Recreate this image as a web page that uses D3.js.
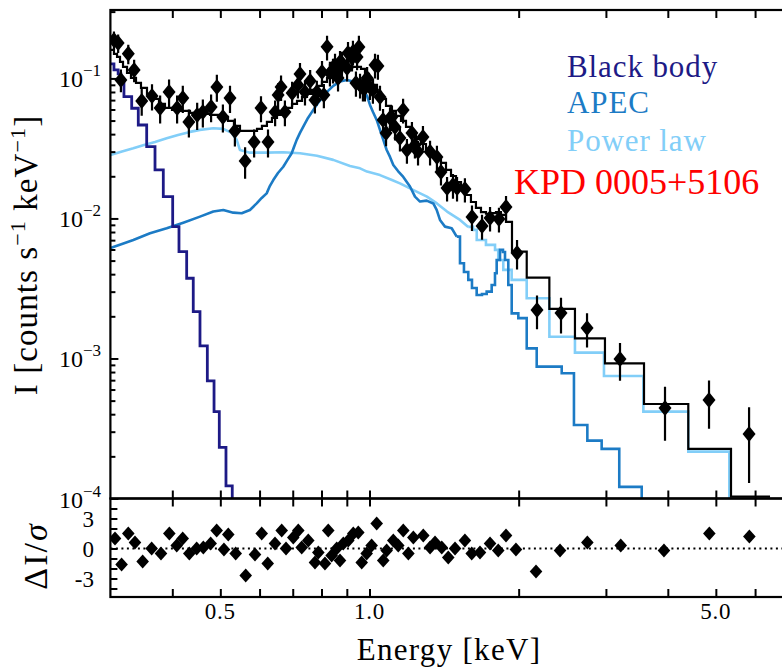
<!DOCTYPE html>
<html>
<head>
<meta charset="utf-8">
<script src="https://cdn.jsdelivr.net/npm/d3@7"></script>
<style>
  body { margin: 0; background: #fff; }
  svg { display: block; font-family: "Liberation Serif", "Times New Roman", serif; }
</style>
</head>
<body>
<svg id="chart" width="782" height="671"></svg>
<script>
// ---- Observed spectrum (keV, counts s^-1 keV^-1, 1-sigma error) ----
const dataEnergy = [0.305,0.311,0.315,0.326,0.335,0.347,0.364,0.378,0.394,0.409,0.420,0.432,0.449,0.461,0.479,0.492,0.506,0.523,0.535,0.561,0.585,0.604,0.624,0.645,0.654,0.663,0.675,0.698,0.717,0.724,0.741,0.759,0.776,0.783,0.802,0.809,0.821,0.832,0.844,0.852,0.864,0.872,0.880,0.901,0.905,0.922,0.926,0.939,0.944,0.952,0.957,0.970,0.979,0.989,1.002,1.016,1.026,1.040,1.050,1.065,1.080,1.100,1.110,1.126,1.152,1.169,1.190,1.218,1.235,1.253,1.282,1.325,1.368,1.394,1.434,1.474,1.502,1.558,1.610,1.687,1.751,1.825,1.886,1.985,2.178,2.435,2.748,3.203,3.948,4.844,5.835];
const dataFlux = [0.188,0.179,0.0976,0.150,0.115,0.0691,0.0750,0.0616,0.0801,0.0616,0.0726,0.0489,0.0549,0.0576,0.0626,0.0870,0.0531,0.0726,0.0422,0.0257,0.0352,0.0616,0.0352,0.0576,0.0762,0.0870,0.0576,0.0788,0.0899,0.1077,0.0801,0.0960,0.0702,0.0801,0.1113,0.0762,0.168,0.1095,0.1150,0.1249,0.1008,0.1312,0.1290,0.1189,0.1521,0.1401,0.1546,0.0929,0.1424,0.1679,0.0899,0.0855,0.0855,0.1008,0.0870,0.0828,0.1249,0.1228,0.0738,0.0505,0.0408,0.0522,0.0531,0.0450,0.0376,0.0596,0.0308,0.0408,0.0335,0.0299,0.0382,0.0299,0.0275,0.0215,0.0165,0.0173,0.0165,0.0162,0.01025,0.00884,0.01008,0.00992,0.01208,0.00567,0.00222,0.00211,0.00165,0.000992,0.000443,0.000505,0.000289];
const dataError = [0.028,0.027,0.018,0.024,0.021,0.015,0.016,0.014,0.018,0.014,0.016,0.011,0.012,0.013,0.014,0.019,0.012,0.016,0.0095,0.0065,0.008,0.013,0.008,0.012,0.016,0.018,0.012,0.016,0.018,0.021,0.016,0.019,0.014,0.016,0.022,0.015,0.034,0.022,0.023,0.025,0.020,0.026,0.026,0.024,0.030,0.028,0.031,0.019,0.028,0.034,0.018,0.017,0.017,0.020,0.017,0.017,0.025,0.025,0.015,0.010,0.008,0.010,0.011,0.009,0.0075,0.012,0.0062,0.008,0.0067,0.006,0.0076,0.006,0.0055,0.0043,0.0033,0.0035,0.0033,0.0032,0.0021,0.0018,0.002,0.002,0.0024,0.00135,0.0006,0.0006,0.00045,0.0003,0.000185,0.00019,0.00016];

// ---- Residuals (data - model) / sigma ----
const resEnergy = [0.3065,0.316,0.326,0.3363,0.3485,0.3634,0.3795,0.3945,0.4083,0.4198,0.4329,0.448,0.462,0.478,0.4916,0.5085,0.5188,0.537,0.5626,0.5874,0.606,0.6232,0.6446,0.665,0.6785,0.7018,0.7183,0.7298,0.7524,0.7762,0.7884,0.8131,0.8256,0.8387,0.8587,0.8719,0.8854,0.9062,0.9275,0.9493,0.9645,0.987,1.010,1.034,1.066,1.083,1.117,1.143,1.170,1.198,1.226,1.284,1.325,1.356,1.399,1.442,1.488,1.558,1.608,1.671,1.751,1.819,1.886,1.975,2.168,2.424,2.752,3.214,3.929,4.851,5.843];
const resValue = [1.0,-1.6,1.5,0.6,-1.3,0,-0.5,1.5,0.3,1.0,-0.5,0,0.1,0.5,1.8,-0.1,1.4,-0.5,-2.7,-0.6,1.5,-1.5,0.5,1.8,0,1.1,1.8,0.1,0.8,-1.4,-0.4,-1.5,1.8,-0.7,0,-1.2,0.5,0.8,1.5,1.6,-1.4,-0.5,0.3,2.5,-1.2,-0.2,0.8,0.3,1.8,-0.5,1.1,1.3,0.1,0.6,0.1,-0.9,0,0.8,-0.5,-0.4,0.5,-0.2,1.3,-0.1,-2.3,-0.2,0.6,0.3,-0.2,1.5,1.2];

// ---- Model components (bin start energy in keV, model flux) ----
const bbEnergy = [0.300,0.305,0.311,0.315,0.3195,0.3312,0.3415,0.3551,0.3691,0.3836,0.4007,0.4126,0.4276,0.4409,0.4549,0.4707,0.4856,0.4976,0.5133,0.5285];
const bbFlux = [0.1269,0.1150,0.1077,0.0976,0.0741,0.0612,0.0465,0.0326,0.0222,0.0143,0.00874,0.00579,0.00374,0.00216,0.00123,0.000691,0.000417,0.000232,0.000123,0.00005];

const apecEnergy = [0.300,0.3166,0.3337,0.3606,0.3897,0.4209,0.4549,0.4840,0.5069,0.5310,0.5522,0.5737,0.5920,0.6060,0.6201,0.6297,0.6395,0.6536,0.6699,0.6832,0.6966,0.7041,0.7130,0.7240,0.7352,0.7514,0.7702,0.7872,0.8069,0.8247,0.8450,0.8719,0.8994,0.9275,0.9480,0.9716,0.9885,1.0023,1.0164,1.0340,1.0500,1.0663,1.0832,1.1000,1.1170,1.1416,1.1700,1.2070,1.2354,1.2644,1.3044,1.3451,1.3664,1.3876,1.4203,1.4652,1.4997,1.5228,1.5511,1.5825,1.6100,1.6455,1.6866,1.7238,1.7643,1.7917,1.8058,1.8339,1.8594,1.8770,1.9060,1.9364,1.997,2.0764,2.1750,2.4430,2.5860,2.7520,2.9413,3.1920,3.5430];
const apecFlux = [0.00616,0.00657,0.00702,0.00784,0.00851,0.00933,0.0103,0.0112,0.0115,0.0110,0.0109,0.0115,0.0128,0.0140,0.0151,0.0171,0.0188,0.0211,0.0234,0.0262,0.0292,0.0324,0.0364,0.0408,0.0453,0.0522,0.0596,0.0668,0.0741,0.0814,0.0884,0.0949,0.0976,0.0949,0.0913,0.0828,0.0750,0.0647,0.0576,0.0505,0.0429,0.0364,0.0308,0.0275,0.0241,0.0218,0.0198,0.0169,0.0143,0.0132,0.0134,0.0128,0.0115,0.00976,0.00874,0.00851,0.00741,0.00479,0.00415,0.00364,0.00319,0.00284,0.00289,0.00300,0.00335,0.00406,0.00505,0.00596,0.00576,0.00505,0.00335,0.00210,0.00194,0.00118,0.000874,0.000784,0.000335,0.000259,0.000226,0.000121,0.00005];
const apecCoarseFrom = 1.4997;   // energy where the grouped (stepped) bins begin

const plEnergy = [0.300,0.3166,0.3337,0.3507,0.3691,0.3897,0.4107,0.4342,0.4549,0.4840,0.5069,0.5271,0.5395,0.5478,0.5737,0.6201,0.6699,0.7240,0.7834,0.8450,0.9134,0.9568,0.9885,1.050,1.110,1.152,1.224,1.306,1.368,1.434,1.523,1.5825,1.618,1.646,1.718,1.792,1.819,1.862,1.936,2.076,2.307,2.598,2.973,3.570,4.399,5.322];
const plFlux = [0.0284,0.0301,0.0317,0.0335,0.0352,0.0374,0.0395,0.0415,0.0429,0.0441,0.0436,0.0408,0.0364,0.0308,0.0295,0.0295,0.0297,0.0292,0.0280,0.0262,0.0237,0.0228,0.0216,0.0204,0.0188,0.0178,0.0160,0.0143,0.0128,0.0112,0.00976,0.00870,0.00828,0.00702,0.00647,0.00596,0.00505,0.00429,0.00364,0.00269,0.00143,0.00110,0.000750,0.000417,0.000216,0.0001];
const plCoarseFrom = 1.5825;

const totalEnergy = [0.300,0.305,0.3094,0.3137,0.3181,0.3241,0.3301,0.3379,0.3458,0.3556,0.3657,0.3760,0.3866,0.3994,0.4145,0.4342,0.4549,0.4766,0.4992,0.5181,0.5327,0.5478,0.5929,0.6067,0.6209,0.6356,0.6506,0.6659,0.6816,0.6976,0.7140,0.7308,0.7480,0.7655,0.7834,0.8018,0.8209,0.8400,0.8598,0.8801,0.9006,0.9219,0.9436,0.9612,0.9793,0.9977,1.0164,1.0354,1.0549,1.0797,1.1051,1.1311,1.1576,1.1849,1.2128,1.2411,1.2703,1.3002,1.3306,1.3620,1.3940,1.4269,1.4605,1.4948,1.5300,1.5658,1.6023,1.6399,1.6788,1.7183,1.7586,1.8000,1.8423,1.8857,1.9390,2.0764,2.3067,2.5980,2.9867,3.5810,4.3990,5.3650,6.4320];
const totalFlux = [0.1598,0.1496,0.1424,0.1312,0.1208,0.1095,0.1008,0.0929,0.0855,0.0775,0.0714,0.0657,0.0616,0.0596,0.0586,0.0567,0.0558,0.0549,0.0531,0.0497,0.0458,0.0422,0.0436,0.0458,0.0489,0.0522,0.0549,0.0586,0.0616,0.0657,0.0691,0.0738,0.0775,0.0828,0.0884,0.0944,0.1008,0.1059,0.1113,0.1150,0.1189,0.1208,0.1208,0.1169,0.1077,0.0976,0.0899,0.0801,0.0714,0.0636,0.0586,0.0540,0.0497,0.0450,0.0408,0.0370,0.0340,0.0314,0.0289,0.0271,0.0249,0.0222,0.0201,0.0182,0.0165,0.0147,0.0131,0.0119,0.0111,0.0108,0.0109,0.0111,0.0106,0.00944,0.00579,0.00378,0.00226,0.00139,0.000924,0.000473,0.000226,0.000103,0.000103];

// ---- Axis ticks ----
const xTicks = [0.4,0.5,0.6,0.7,0.8,0.9,1,2,3,4,5,6];
const xTickLabels = [[0.5,"0.5"],[1.0,"1.0"],[5.0,"5.0"]];
const yMajor = [1e-4,1e-3,1e-2,1e-1];
const yLabelExp = ["−4","−3","−2","−1"];
const resTicks = [-4,-3,-2,-1,0,1,2,3,4];
const resLabels = [[3,"3"],[0,"0"],[-3,"-3"]];

// ---- Legend ----
const legendNames = ["Black body","APEC","Power law"];
const colors = { bb: "#1d1a86", apec: "#1c7bc5", pl: "#82cef8", total: "#000000" };
const legendColors = [colors.bb, colors.apec, colors.pl];
const sourceName = "KPD 0005+5106";

// ---- Layout ----
const pLeft = 110.4, pRight = 788.25, pTop = 10, mainBottom = 498.5, resBottom = 597;
const svg = d3.select("#chart");

const x = d3.scaleLog().domain([0.3, 7.0]).range([pLeft, pRight]);
const y = d3.scaleLog().domain([1e-4, 0.308]).range([mainBottom, pTop]);
const yr = d3.scaleLinear().domain([-4.85, 5]).range([resBottom, mainBottom]);

const defs = svg.append("defs");
defs.append("clipPath").attr("id", "clipMain").append("rect")
  .attr("x", pLeft).attr("y", pTop).attr("width", pRight - pLeft).attr("height", mainBottom - pTop);
defs.append("clipPath").attr("id", "clipRes").append("rect")
  .attr("x", pLeft).attr("y", mainBottom).attr("width", pRight - pLeft).attr("height", resBottom - mainBottom);

const zipped = (a, b) => a.map((v, i) => [v, b[i]]);
const stepLine = d3.line().x(d => x(d[0])).y(d => y(d[1])).curve(d3.curveStepAfter);
const fineLine = d3.line().x(d => x(d[0])).y(d => y(d[1])).curve(d3.curveLinear);

const main = svg.append("g").attr("clip-path", "url(#clipMain)");

function drawSplit(energy, flux, from, color, width) {
  const pts = zipped(energy, flux);
  main.append("path").attr("d", fineLine(pts.filter(p => p[0] <= from)))
    .attr("fill", "none").attr("stroke", color).attr("stroke-width", width).attr("stroke-linejoin", "round");
  main.append("path").attr("d", stepLine(pts.filter(p => p[0] >= from)))
    .attr("fill", "none").attr("stroke", color).attr("stroke-width", width);
}

// Power law and APEC: finely binned below the split energy, grouped above it
drawSplit(plEnergy, plFlux, plCoarseFrom, colors.pl, 2.6);
drawSplit(apecEnergy, apecFlux, apecCoarseFrom, colors.apec, 2.6);

// Black body
main.append("path").attr("d", stepLine(zipped(bbEnergy, bbFlux)))
  .attr("fill", "none").attr("stroke", colors.bb).attr("stroke-width", 2.8);

// Total model
main.append("path").attr("d", stepLine(zipped(totalEnergy, totalFlux)))
  .attr("fill", "none").attr("stroke", colors.total).attr("stroke-width", 2.2);

// Data points with error bars
const diamond = "M0,-8L6.5,0L0,8L-6.5,0Z";
const pts = dataEnergy.map((e, i) => ({ e, f: dataFlux[i], s: dataError[i] }));
main.selectAll("line.err").data(pts).join("line").attr("class", "err")
  .attr("x1", d => x(d.e)).attr("x2", d => x(d.e))
  .attr("y1", d => y(d.f + d.s)).attr("y2", d => y(Math.max(d.f - d.s, 1e-6)))
  .attr("stroke", "#000").attr("stroke-width", 2.2);
main.selectAll("path.pt").data(pts).join("path").attr("class", "pt")
  .attr("d", diamond).attr("transform", d => `translate(${x(d.e)},${y(d.f)})`)
  .attr("fill", "#000");

// Residual panel
const res = svg.append("g").attr("clip-path", "url(#clipRes)");
res.append("line").attr("x1", pLeft).attr("x2", pRight).attr("y1", yr(0)).attr("y2", yr(0))
  .attr("stroke", "#000").attr("stroke-width", 2).attr("stroke-dasharray", "2,3.5");
res.selectAll("path.rpt").data(resEnergy.map((e, i) => [e, resValue[i]])).join("path")
  .attr("class", "rpt").attr("d", "M0,-7L6.3,0L0,7L-6.3,0Z")
  .attr("transform", d => `translate(${x(d[0])},${yr(d[1])})`).attr("fill", "#000");

// ---- Axes ----
const axisStyle = g => {
  g.select(".domain").remove();
  g.selectAll(".tick line").attr("stroke", "#000").attr("stroke-width", 2);
  g.selectAll(".tick text").remove();
};
svg.append("g").attr("transform", `translate(0,${pTop})`)
  .call(d3.axisTop(x).tickValues(xTicks).tickSize(-8)).call(axisStyle);
svg.append("g").attr("transform", `translate(0,${mainBottom})`)
  .call(d3.axisBottom(x).tickValues(xTicks).tickSize(-8)).call(axisStyle);
svg.append("g").attr("transform", `translate(0,${mainBottom})`)
  .call(d3.axisTop(x).tickValues(xTicks).tickSize(-8)).call(axisStyle);
svg.append("g").attr("transform", `translate(0,${resBottom})`)
  .call(d3.axisBottom(x).tickValues(xTicks).tickSize(-8)).call(axisStyle);

const yMinor = [];
[1e-4, 1e-3, 1e-2, 1e-1].forEach(dec => { for (let k = 2; k <= 9; k++) { const v = k * dec; if (v <= 0.308) yMinor.push(v); } });
svg.append("g").attr("transform", `translate(${pLeft},0)`)
  .call(d3.axisLeft(y).tickValues(yMajor).tickSize(-8)).call(axisStyle);
svg.append("g").attr("transform", `translate(${pLeft},0)`)
  .call(d3.axisLeft(y).tickValues(yMinor).tickSize(-5)).call(axisStyle);
svg.append("g").attr("transform", `translate(${pLeft},0)`)
  .call(d3.axisLeft(yr).tickValues(resTicks).tickSize(-7)).call(axisStyle);

// Frame
const frame = svg.append("g").attr("fill", "none").attr("stroke", "#000").attr("stroke-width", 2.2);
frame.append("rect").attr("x", pLeft).attr("y", pTop).attr("width", pRight - pLeft).attr("height", mainBottom - pTop);
frame.append("rect").attr("x", pLeft).attr("y", mainBottom).attr("width", pRight - pLeft).attr("height", resBottom - mainBottom);

// Tick labels
const tickFont = 23;
svg.append("g").selectAll("text").data(xTickLabels).join("text")
  .attr("x", d => x(d[0])).attr("y", resBottom + 22).attr("text-anchor", "middle")
  .attr("font-size", tickFont).attr("letter-spacing", 0.8).attr("fill", "#000").text(d => d[1]);

const yl = svg.append("g").selectAll("text").data(yMajor).join("text")
  .attr("x", 101).attr("y", d => y(d) + 9).attr("text-anchor", "end")
  .attr("font-size", 24).attr("fill", "#000");
yl.append("tspan").text("10");
yl.append("tspan").attr("dy", -11).attr("font-size", 17).text((d, i) => yLabelExp[i]);

svg.append("g").selectAll("text").data(resLabels).join("text")
  .attr("x", 94).attr("y", d => yr(d[0]) + 8).attr("text-anchor", "end")
  .attr("font-size", tickFont).attr("fill", "#000").text(d => d[1]);

// Axis titles
svg.append("text").attr("x", 449).attr("y", 660).attr("text-anchor", "middle")
  .attr("font-size", 31).attr("letter-spacing", 1.3).attr("fill", "#000").text("Energy [keV]");

const yt = svg.append("text").attr("transform", "translate(37,255) rotate(-90)")
  .attr("text-anchor", "middle").attr("font-size", 33).attr("letter-spacing", 1.1).attr("fill", "#000");
yt.append("tspan").text("I [counts s");
yt.append("tspan").attr("dy", -12).attr("font-size", 22).text("−1");
yt.append("tspan").attr("dy", 12).text(" keV");
yt.append("tspan").attr("dy", -12).attr("font-size", 22).text("−1");
yt.append("tspan").attr("dy", 12).text("]");

const rt = svg.append("text").attr("transform", "translate(47,556) rotate(-90)")
  .attr("text-anchor", "middle").attr("font-size", 34).attr("letter-spacing", 2).attr("fill", "#000");
rt.append("tspan").text("ΔI/");
rt.append("tspan").attr("font-style", "italic").text("σ");

// Legend
svg.append("g").selectAll("text").data(legendNames).join("text")
  .attr("x", 567).attr("y", (d, i) => [77, 113, 151][i])
  .attr("font-size", 31).attr("letter-spacing", 0.9).attr("fill", (d, i) => legendColors[i]).text(d => d);
svg.append("text").attr("x", 514).attr("y", 194).attr("font-size", 36)
  .attr("fill", "#ff0000").text(sourceName);
</script>
</body>
</html>
